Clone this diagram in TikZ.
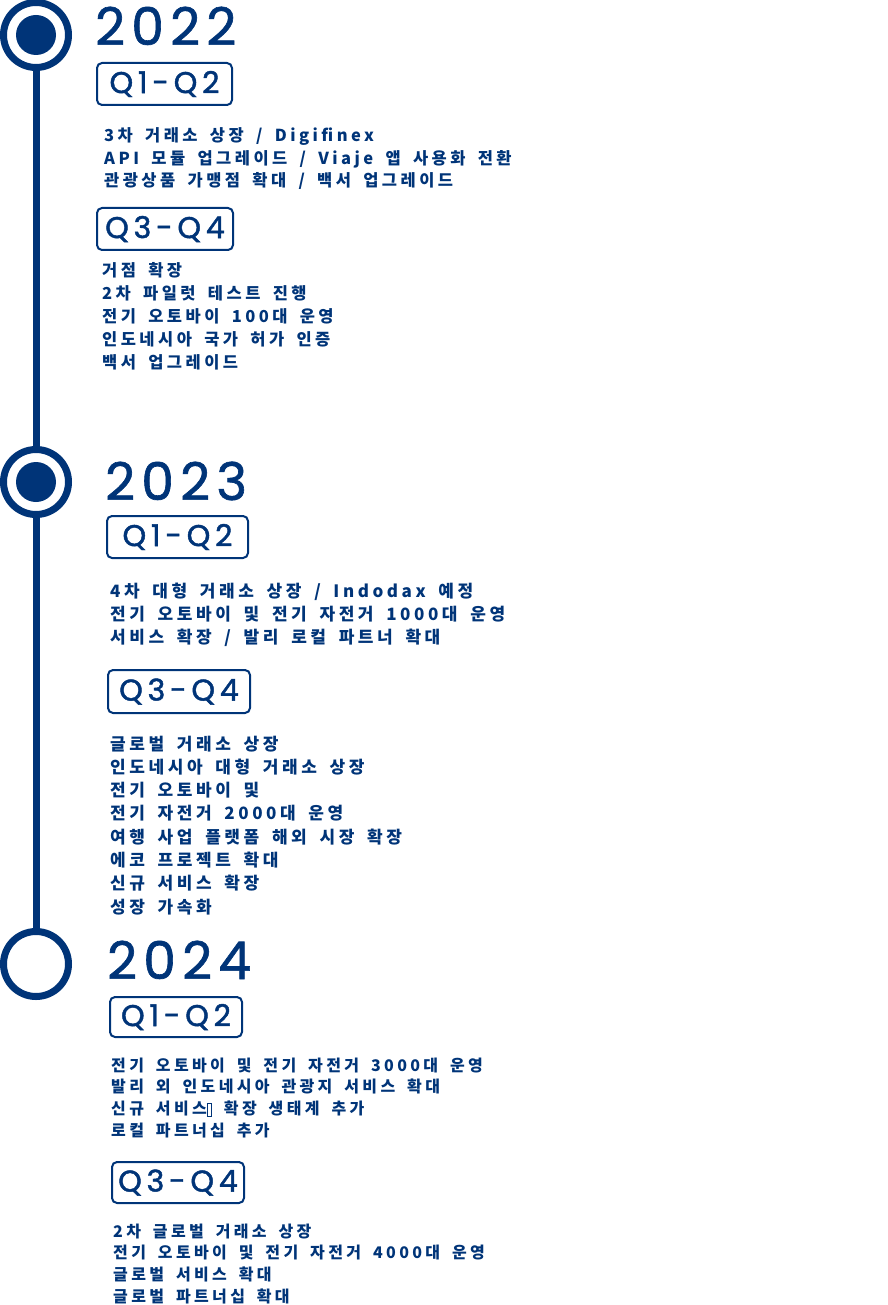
\documentclass[tikz,border=0pt]{standalone}
\usepackage{fontspec}
\usepackage{xcolor}
\newfontfamily\yearfont[LetterSpace=12, FakeBold=1.2]{Poppins}
\newfontfamily\qfont[LetterSpace=16, FakeBold=1.5]{Poppins}
\newfontfamily\kofont[LetterSpace=21, WordSpace=1.7]{Noto Sans CJK KR}
\definecolor{navy}{RGB}{0,52,120}
\newcommand{\tofu}{\raisebox{-1pt}{\fboxsep=0pt\fboxrule=0.6pt\fbox{\rule{0pt}{12pt}\hspace{4pt}}}}

\begin{document}
\begin{tikzpicture}[x=1pt, y=-1pt,
    year/.style={anchor=base west, inner sep=0, text=navy, font=\yearfont\fontsize{52}{52}\selectfont},
    qbox/.style={draw=navy, line width=2, rounded corners=5, inner sep=0, text=navy, font=\qfont\fontsize{30}{30}\selectfont},
    item/.style={anchor=base west, inner sep=0, text=navy, font=\kofont\bfseries\fontsize{17}{17}\selectfont},
    itemmd/.style={item, font=\kofont\bfseries\fontsize{16.5}{16.5}\selectfont},
    itemsm/.style={item, font=\kofont\bfseries\fontsize{16}{16}\selectfont},
    ring/.style={circle, draw=navy, fill=white, line width=7, minimum size=65, inner sep=0},
    dot/.style={circle, fill=navy, minimum size=40, inner sep=0}]
  \useasboundingbox (0,0) rectangle (887,1305);
  \coordinate (p1) at (36,35);
  \coordinate (p2) at (36,482);
  \coordinate (p3) at (36,964);
  \draw [navy, line width=7] (p1) -- (p3);
  \foreach \p in {1,2,3} {
    \node [ring] (c\p) at (p\p) {};
  }
  \node [dot] (d1) at (c1) {};
  \node [dot] (d2) at (c2) {};

  \node [year] (y2022) at (95,45) {2022};
  \node [year] (y2023) at (105,500) {2023};
  \node [year] (y2024) at (107,979) {2024};

  \node [qbox, minimum width=135, minimum height=42] (q22a) at (164.5,84) {Q1-Q2};
  \node [qbox, minimum width=136, minimum height=42] (q22b) at (165,229) {Q3-Q4};
  \node [qbox, minimum width=141, minimum height=42] (q23a) at (177.5,537) {Q1-Q2};
  \node [qbox, minimum width=142, minimum height=43] (q23b) at (179,691.5) {Q3-Q4};
  \node [qbox, minimum width=132, minimum height=40] (q24a) at (176,1017) {Q1-Q2};
  \node [qbox, minimum width=132, minimum height=41] (q24b) at (178,1182.5) {Q3-Q4};

  \foreach \t [count=\i from 0] in {{3차 거래소 상장 / Digifinex},
      {API 모듈 업그레이드 / Viaje 앱 사용화 전환},
      {관광상품 가맹점 확대 / 백서 업그레이드}} {
    \node [itemmd] (t22a\i) at (104,142+22.3*\i) {\t};
  }
  \foreach \t [count=\i from 0] in {{거점 확장}, {2차 파일럿 테스트 진행},
      {전기 오토바이 100대 운영}, {인도네시아 국가 허가 인증}, {백서 업그레이드}} {
    \node [itemmd] (t22b\i) at (102,277+22.8*\i) {\t};
  }
  \foreach \t [count=\i from 0] in {{4차 대형 거래소 상장 / Indodax 예정},
      {전기 오토바이 및 전기 자전거 1000대 운영},
      {서비스 확장 / 발리 로컬 파트너 확대}} {
    \node [item] (t23a\i) at (110,597+23*\i) {\t};
  }
  \foreach \t [count=\i from 0] in {{글로벌 거래소 상장}, {인도네시아 대형 거래소 상장},
      {전기 오토바이 및}, {전기 자전거 2000대 운영}, {여행 사업 플랫폼 해외 시장 확장},
      {에코 프로젝트 확대}, {신규 서비스 확장}, {성장 가속화}} {
    \node [item] (t23b\i) at (110,750+23.3*\i) {\t};
  }
  \foreach \t [count=\i from 0] in {{전기 오토바이 및 전기 자전거 3000대 운영},
      {발리 외 인도네시아 관광지 서비스 확대}, {신규 서비스\tofu{} 확장 생태계 추가},
      {로컬 파트너십 추가}} {
    \node [itemsm] (t24a\i) at (111,1071+21.9*\i) {\t};
  }
  \foreach \t [count=\i from 0] in {{2차 글로벌 거래소 상장},
      {전기 오토바이 및 전기 자전거 4000대 운영}, {글로벌 서비스 확대},
      {글로벌 파트너십 확대}} {
    \node [itemsm] (t24b\i) at (113,1237+21.7*\i) {\t};
  }
\end{tikzpicture}
\end{document}
